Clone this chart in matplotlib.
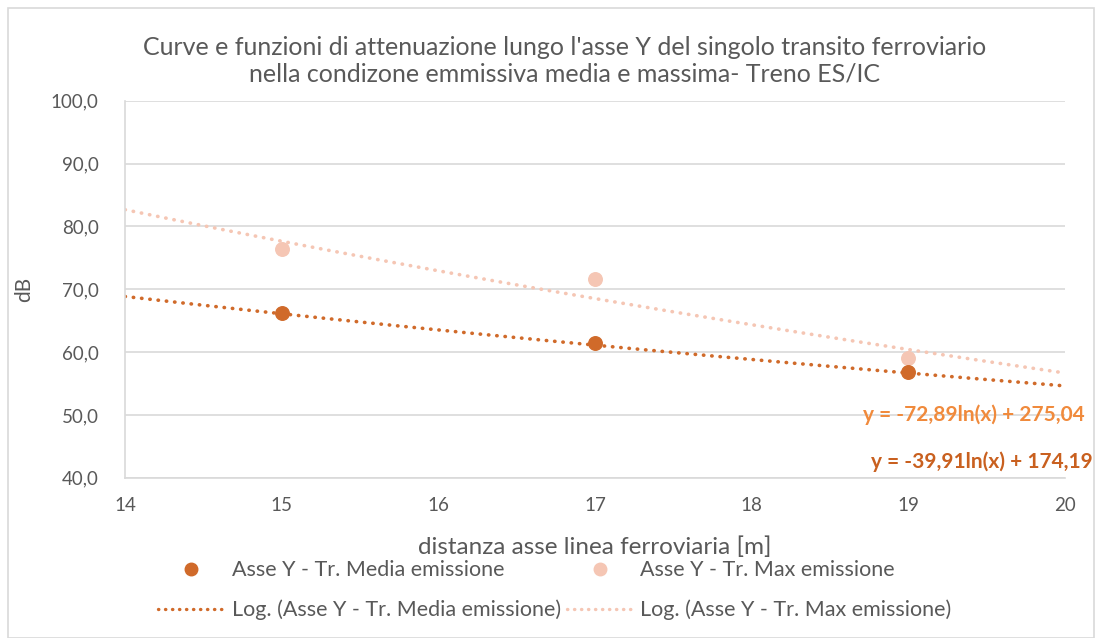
import matplotlib.pyplot as plt
import numpy as np
from matplotlib.lines import Line2D
from matplotlib.patches import Rectangle

plt.rcParams["font.family"] = ["Lato", "DejaVu Sans"]

# measured points (distance from track axis, dB)
distanza = [15, 17, 19]
media_emissione = [66.3, 61.4, 56.8]
max_emissione = [76.4, 71.6, 59.0]

# logarithmic trend coefficients y = a*ln(x) + b
log_media = (-39.91, 174.19)
log_max = (-72.89, 275.04)

x_ticks = [14, 15, 16, 17, 18, 19, 20]
y_ticks = [40, 50, 60, 70, 80, 90, 100]

c_media = "#D06A2A"
c_max = "#F5C6B4"
c_eq_max = "#F08A3C"
c_eq_media = "#C9601F"
c_text = "#595959"

fig = plt.figure(figsize=(10.97, 6.38), dpi=100)
fig.patches.append(Rectangle((0.007, 0.0), 0.99, 0.988, transform=fig.transFigure,
                             fill=False, edgecolor="#D9D9D9", linewidth=1.2))
ax = fig.add_axes([0.114, 0.251, 0.857, 0.591])

xs = np.linspace(14, 20, 200)
ax.plot(xs, log_max[0] * np.log(xs) + log_max[1], color=c_max, lw=2.6,
        linestyle=(0, (0.1, 2.2)), dash_capstyle="round", zorder=2)
ax.plot(xs, log_media[0] * np.log(xs) + log_media[1], color=c_media, lw=2.6,
        linestyle=(0, (0.1, 2.2)), dash_capstyle="round", zorder=2)
ax.scatter(distanza, max_emissione, s=95, color=c_max, zorder=3)
ax.scatter(distanza, media_emissione, s=95, color=c_media, zorder=4)

ax.set_xlim(14, 20)
ax.set_ylim(40, 100)
ax.set_xticks(x_ticks)
ax.set_yticks(y_ticks)
ax.set_yticklabels([f"{v:.1f}".replace(".", ",") for v in y_ticks])
ax.grid(axis="y", color="#D9D9D9", linewidth=1.2)
ax.set_axisbelow(True)
for side in ("top", "right"):
    ax.spines[side].set_visible(False)
for side in ("left", "bottom"):
    ax.spines[side].set_color("#D9D9D9")
    ax.spines[side].set_linewidth(1.2)
ax.tick_params(length=0, labelsize=13.5, colors=c_text)
ax.tick_params(axis="y", pad=19)
ax.tick_params(axis="x", pad=14)

ax.set_xlabel("distanza asse linea ferroviaria [m]", fontsize=17.5, color=c_text, labelpad=16)
ax.set_ylabel("dB", fontsize=15, color=c_text, labelpad=12)
fig.text(0.515, 0.905,
         "Curve e funzioni di attenuazione lungo l'asse Y del singolo transito ferroviario\n"
         "nella condizone emmissiva media e massima- Treno ES/IC",
         ha="center", va="center", fontsize=18, color=c_text, linespacing=1.2)

ax.text(1.021, 0.167, "y = -72,89ln(x) + 275,04", transform=ax.transAxes, ha="right",
        va="center", fontsize=15, fontweight="bold", color=c_eq_max)
ax.text(1.029, 0.042, "y = -39,91ln(x) + 174,19", transform=ax.transAxes, ha="right",
        va="center", fontsize=15, fontweight="bold", color=c_eq_media)

handles = [
    Line2D([], [], marker="o", linestyle="none", color=c_media, markersize=9),
    Line2D([], [], color=c_media, lw=2.4, linestyle=(0, (0.1, 2.0)), dash_capstyle="round"),
    Line2D([], [], marker="o", linestyle="none", color=c_max, markersize=9),
    Line2D([], [], color=c_max, lw=2.4, linestyle=(0, (0.1, 2.0)), dash_capstyle="round"),
]
labels = [
    "Asse Y - Tr. Media emissione",
    "Log. (Asse Y - Tr. Media emissione)",
    "Asse Y - Tr. Max emissione",
    "Log. (Asse Y - Tr. Max emissione)",
]
leg = fig.legend(handles, labels, ncol=2, loc="center", bbox_to_anchor=(0.506, 0.075),
                 frameon=False, fontsize=15.5, handlelength=3.0, labelspacing=0.9,
                 columnspacing=0.3, handletextpad=0.4)
for t in leg.get_texts():
    t.set_color(c_text)

fig.savefig("out.png", dpi=100)
